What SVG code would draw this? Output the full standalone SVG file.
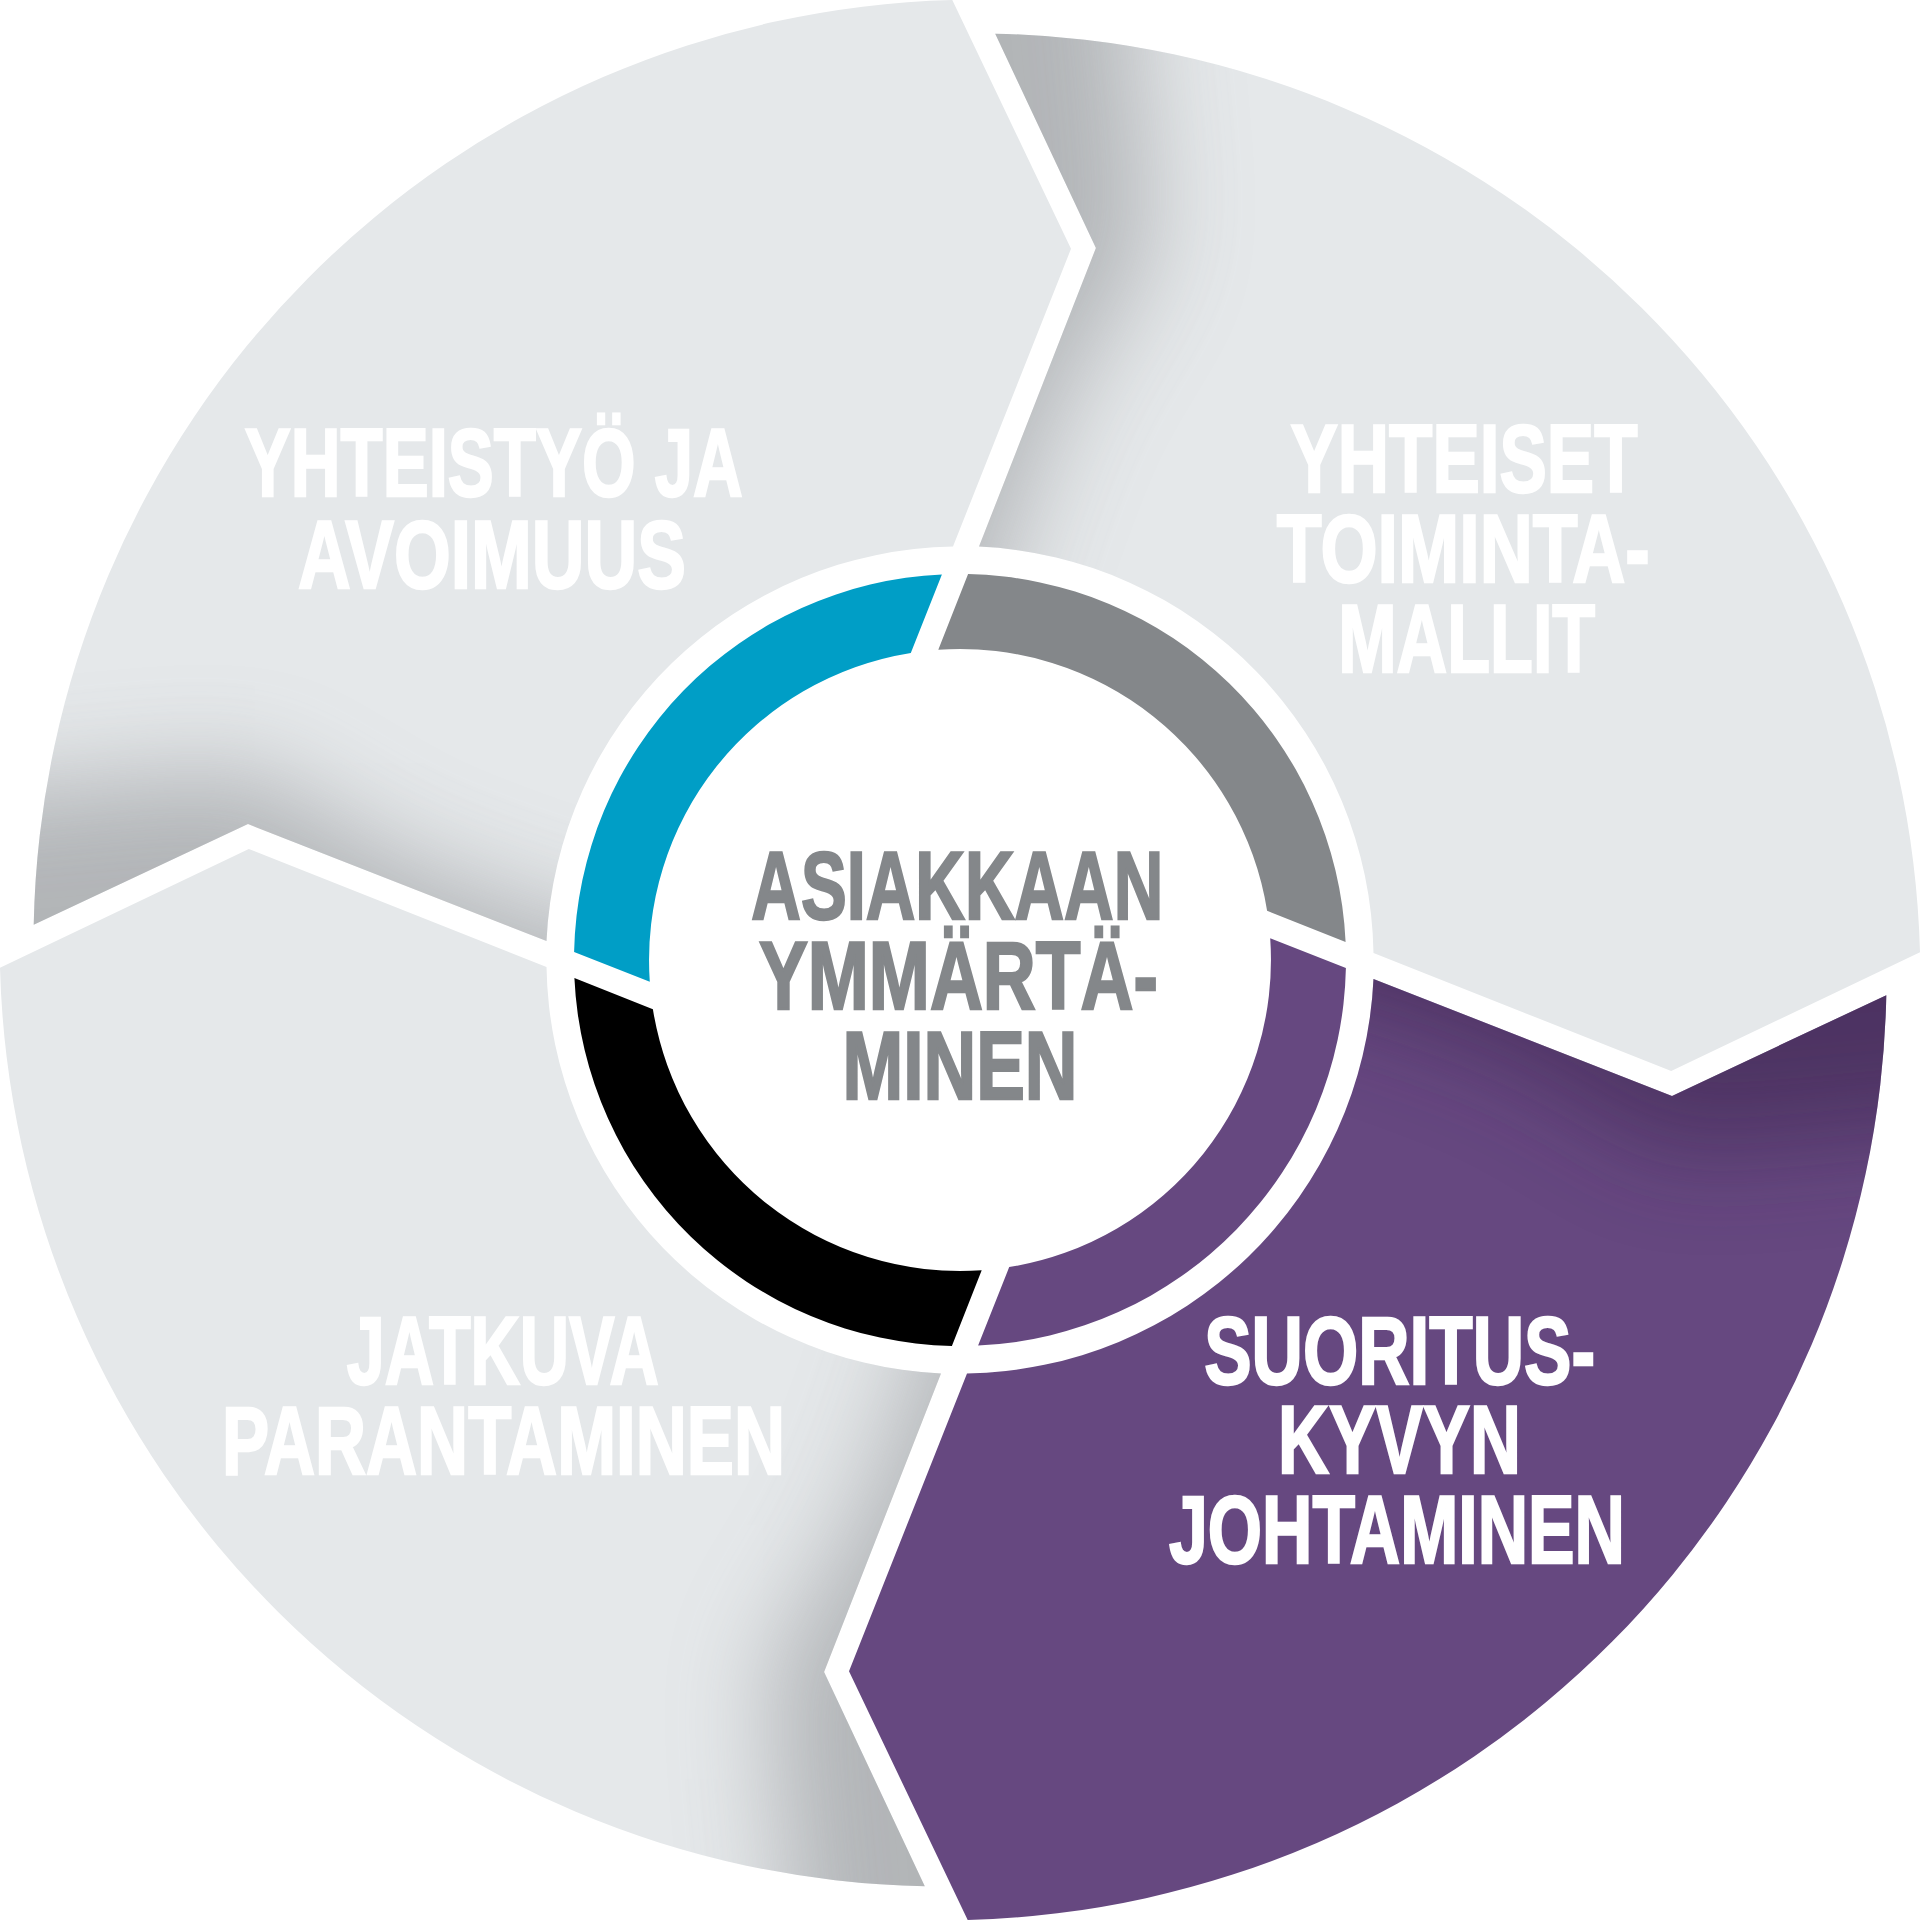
<svg xmlns="http://www.w3.org/2000/svg" xmlns:xlink="http://www.w3.org/1999/xlink" width="1920" height="1920" viewBox="0 0 1920 1920">
<style>
.seg-light{fill:#e5e8ea}
.seg-purple{fill:#664880}
.shade-light{fill:#9fa1a4;opacity:0.72}
.shade-purple{fill:#3e2550;opacity:0.6}
.lbl{font-family:'Liberation Sans',Arial,sans-serif;font-weight:bold;font-size:96px;text-anchor:middle;stroke-width:2.4;stroke-linejoin:miter}
.white{fill:#ffffff;stroke:#ffffff}
.grey{fill:#84878a;stroke:#84878a}
</style>
<defs>
<path id="segShape" d="M 33.7 924.8 A 944 944 0 0 1 952.3 0 L 1071 248.8 L 953 546.5 A 414 414 0 0 0 546.5 941 L 248 824.1 Z"/>
<path id="ringShape" d="M 574.1 951.9 A 386 386 0 0 1 941.9 574.4 L 910.8 652.9 A 311 311 0 0 0 649.8 981.7 Z"/>
<clipPath id="segClip"><use href="#segShape"/></clipPath>
<polygon id="shadowShape" points="-100,1100 -100,800 20,790 120,780 250,770 400,860 546,915 650,940 650,1100"/>
<filter id="soft" filterUnits="userSpaceOnUse" x="-600" y="-600" width="3200" height="3200">
<feGaussianBlur stdDeviation="50"/>
</filter>
</defs>
<rect x="0" y="0" width="1920" height="1920" fill="#ffffff"/>

<g id="node-yhteistyo-ja-avoimuus">
<g transform="rotate(0 960 960)">
<use href="#segShape" class="seg-light"/>
<g clip-path="url(#segClip)"><use href="#shadowShape" class="shade-light" filter="url(#soft)"/></g>
</g>
<text class="lbl white" x="493.8" y="496" textLength="498" lengthAdjust="spacingAndGlyphs">YHTEISTYÖ JA</text>
<text class="lbl white" x="492" y="587.7" textLength="388" lengthAdjust="spacingAndGlyphs">AVOIMUUS</text>
</g>

<g id="node-yhteiset-toimintamallit">
<g transform="rotate(90 960 960)">
<use href="#segShape" class="seg-light"/>
<g clip-path="url(#segClip)"><use href="#shadowShape" class="shade-light" filter="url(#soft)"/></g>
</g>
<text class="lbl white" x="1464" y="492.3" textLength="347" lengthAdjust="spacingAndGlyphs">YHTEISET</text>
<text class="lbl white" x="1463.3" y="582" textLength="373" lengthAdjust="spacingAndGlyphs">TOIMINTA-</text>
<text class="lbl white" x="1466.7" y="672" textLength="257" lengthAdjust="spacingAndGlyphs">MALLIT</text>
</g>

<g id="node-suorituskyvyn-johtaminen">
<g transform="rotate(180 960 960)">
<use href="#segShape" class="seg-purple"/>
<g clip-path="url(#segClip)"><use href="#shadowShape" class="shade-purple" filter="url(#soft)"/></g>
</g>
<text class="lbl white" x="1399.7" y="1384" textLength="391" lengthAdjust="spacingAndGlyphs">SUORITUS-</text>
<text class="lbl white" x="1399.5" y="1473.3" textLength="243" lengthAdjust="spacingAndGlyphs">KYVYN</text>
<text class="lbl white" x="1397" y="1563.3" textLength="456" lengthAdjust="spacingAndGlyphs">JOHTAMINEN</text>
</g>

<g id="node-jatkuva-parantaminen">
<g transform="rotate(270 960 960)">
<use href="#segShape" class="seg-light"/>
<g clip-path="url(#segClip)"><use href="#shadowShape" class="shade-light" filter="url(#soft)"/></g>
</g>
<text class="lbl white" x="502.8" y="1384.1" textLength="312" lengthAdjust="spacingAndGlyphs">JATKUVA</text>
<text class="lbl white" x="503.5" y="1473.7" textLength="563" lengthAdjust="spacingAndGlyphs">PARANTAMINEN</text>
</g>

<g id="node-asiakkaan-ymmartaminen">
<use href="#ringShape" fill="#009ec6" transform="rotate(0 960 960)"/>
<use href="#ringShape" fill="#84878a" transform="rotate(90 960 960)"/>
<use href="#ringShape" fill="#664880" transform="rotate(180 960 960)"/>
<use href="#ringShape" fill="#000000" transform="rotate(270 960 960)"/>
<text class="lbl grey" x="957.3" y="919.3" textLength="412" lengthAdjust="spacingAndGlyphs">ASIAKKAAN</text>
<text class="lbl grey" x="958.4" y="1009.3" textLength="399" lengthAdjust="spacingAndGlyphs">YMMÄRTÄ-</text>
<text class="lbl grey" x="960" y="1098.7" textLength="235" lengthAdjust="spacingAndGlyphs">MINEN</text>
</g>

<g id="connectors"/>
</svg>
